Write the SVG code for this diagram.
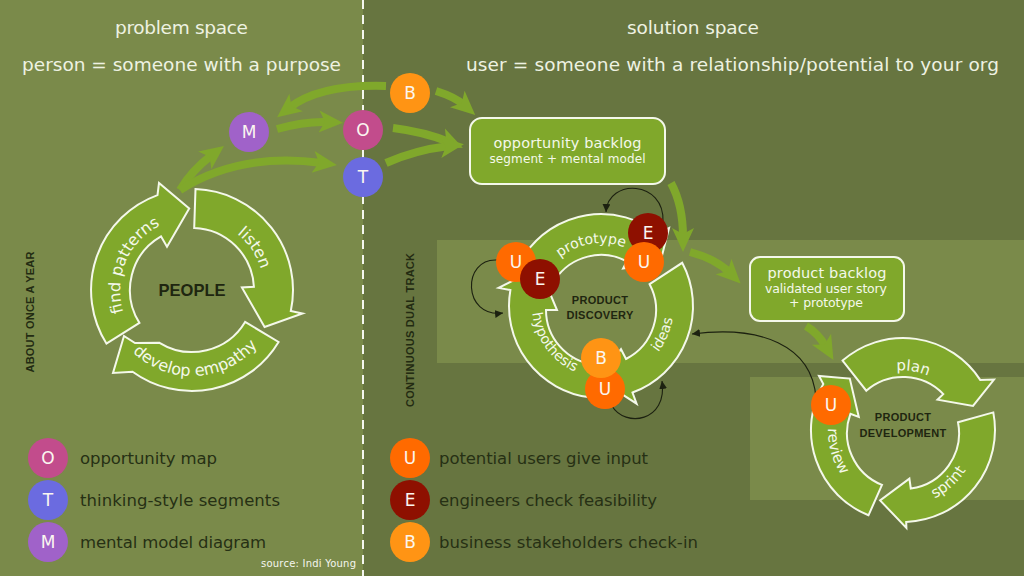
<svg xmlns="http://www.w3.org/2000/svg" width="1024" height="576" viewBox="0 0 1024 576">
<defs>
<style>
.ttl{font-family:"DejaVu Sans",Verdana,sans-serif;font-size:18.5px;fill:#eef2e2}
.ring{fill:#80a82b;stroke:#f4f8ea;stroke-width:2;stroke-linejoin:miter}
.rl{font-family:"DejaVu Sans",sans-serif;fill:#f4f8ea}
.ctr{font-family:"Liberation Sans",Arial,sans-serif;font-weight:bold;fill:#1f2610;text-anchor:middle}
.big{fill:none;stroke:#80a82b;stroke-width:8;marker-end:url(#ah)}
.thin{fill:none;stroke:#1c2110;stroke-width:1.1;marker-end:url(#sa)}
.cl{font-family:"DejaVu Sans",sans-serif;font-size:17px;fill:#fbf6f0;text-anchor:middle}
.lg{font-family:"DejaVu Sans",sans-serif;font-size:16.5px;fill:#263014}
.bx{fill:#80a82b;stroke:#f4f8ea;stroke-width:2}
.bt{font-family:"DejaVu Sans",sans-serif;fill:#f4f8ea;text-anchor:middle}
.vt{font-family:"Liberation Sans",Arial,sans-serif;font-weight:bold;font-size:11px;fill:#232b12;text-anchor:middle}
.cO{fill:#c24c8c}.cT{fill:#6b6be0}.cM{fill:#a062c9}.cB{fill:#ff9414}.cU{fill:#ff6a00}.cE{fill:#8e1000}
</style>
<marker id="ah" markerUnits="userSpaceOnUse" markerWidth="24" markerHeight="24" viewBox="0 0 24 24" refX="9" refY="12" orient="auto"><path d="M0,1 L24,12 L0,23 L6,12 z" fill="#80a82b"/></marker>
<marker id="sa" markerUnits="userSpaceOnUse" markerWidth="8" markerHeight="8" viewBox="0 0 8 8" refX="8" refY="4" orient="auto"><path d="M0,0 L8,4 L0,8 z" fill="#1c2110"/></marker>
<path id="t-listen" d="M151.7,230.3 A72,72 0 0 1 232.3,349.7"/>
<path id="t-find" d="M163.9,356.3 A72,72 0 0 1 220.1,223.7"/>
<path id="t-dev" d="M106.1,294.5 A86,86 0 0 0 277.9,285.5"/>
<path id="t-proto" d="M536.8,318.2 A65,65 0 0 1 665.2,297.8"/>
<path id="t-ideas" d="M572.1,376.1 A74,74 0 0 0 629.9,239.9"/>
<path id="t-hypo" d="M559.3,250.6 A71,71 0 0 0 642.7,365.4"/>
<path id="t-plan" d="M840.8,422.1 A63,63 0 0 1 965.2,441.9"/>
<path id="t-sprint" d="M847.3,482.2 A75,75 0 0 0 958.7,381.8"/>
<path id="t-review" d="M882.3,359.9 A75,75 0 0 0 923.7,504.1"/>
</defs>

<g id="background">
<rect width="1024" height="576" fill="#7a8a4a"/>
<rect x="363" width="661" height="576" fill="#677540"/>
<rect x="437" y="240" width="587" height="123" fill="#7a8a4a"/>
<rect x="750" y="377" width="274" height="123" fill="#7a8a4a"/>
<line x1="363" y1="0" x2="363" y2="576" stroke="#f4f6ee" stroke-width="2" stroke-dasharray="9 6"/>
</g>

<g id="titles">
<text class="ttl" x="181.5" y="34" text-anchor="middle" textLength="133">problem space</text>
<text class="ttl" x="22" y="71" textLength="319">person = someone with a purpose</text>
<text class="ttl" x="693" y="34" text-anchor="middle" textLength="132">solution space</text>
<text class="ttl" x="466" y="71" textLength="533">user = someone with a relationship/potential to your org</text>
<text class="vt" transform="translate(34,312) rotate(-90)" textLength="121">ABOUT ONCE A YEAR</text>
<text class="vt" transform="translate(414,330) rotate(-90)" textLength="154">CONTINUOUS DUAL TRACK</text>
</g>

<g id="people-cycle">
<path class="ring" d="M195.5,189.1 A101,101 0 0 1 290.8,311 L302.5,313.5 L264.6,327 L241.9,287.4 L253.9,286.8 A62,62 0 0 0 194.2,228 Z"/>
<path class="ring" d="M278.6,342 A101,101 0 0 1 132.6,371.7 L113,373 L124,336 L135,343 L159.5,342.8 A62,62 0 0 0 245.1,321.9 Z"/>
<path class="ring" d="M106.4,343.5 A101,101 0 0 1 157.5,195.1 L159,183 L189.2,208.5 L167,246.7 L161,236.3 A62,62 0 0 0 139.4,322.9 Z"/>
<text class="rl" font-size="16" text-anchor="middle"><textPath href="#t-listen" startOffset="50%">listen</textPath></text>
<text class="rl" font-size="16" text-anchor="middle"><textPath href="#t-find" startOffset="50%">find patterns</textPath></text>
<text class="rl" font-size="16" text-anchor="middle"><textPath href="#t-dev" startOffset="50%">develop empathy</textPath></text>
<text class="ctr" x="192" y="296" font-size="16.5">PEOPLE</text>
</g>

<g id="discovery-cycle">
<path class="ring" d="M524.7,254.6 A92,92 0 0 1 657.6,233.5 L669,228 L660.1,263.1 L623.1,268.5 L626.8,261.4 A55,55 0 0 0 555.4,279.2 Z"/>
<path class="ring" d="M682.2,262.8 A92,92 0 0 1 632.5,392.5 L636.6,403.7 L598.5,379 L621,349.2 L626,359 A55,55 0 0 0 649.6,284.2 Z"/>
<path class="ring" d="M589.8,397.3 A92,92 0 0 1 510.4,290 L498.6,287.9 L539.1,267.3 L557,310 L546,310 A55,55 0 0 0 594.3,364.6 Z"/>
<text class="rl" font-size="14" text-anchor="middle"><textPath href="#t-proto" startOffset="50%">prototype</textPath></text>
<text class="rl" font-size="14" text-anchor="middle"><textPath href="#t-ideas" startOffset="50%">ideas</textPath></text>
<text class="rl" font-size="14" text-anchor="middle"><textPath href="#t-hypo" startOffset="50%">hypothesis</textPath></text>
<text class="ctr" x="600" y="304" font-size="11" letter-spacing="0.3">PRODUCT</text>
<text class="ctr" x="600" y="319" font-size="11" letter-spacing="0.3">DISCOVERY</text>
</g>

<g id="development-cycle">
<path class="ring" d="M842.6,360.6 A92,92 0 0 1 980.2,379.9 L994,379.6 L973,405.9 L937.5,399.7 L943.3,394.1 A56,56 0 0 0 866.3,390.7 Z"/>
<path class="ring" d="M993.3,412.4 A92,92 0 0 1 906.2,521.9 L906.4,527.9 L880.1,500.4 L909.4,478.6 L910.8,488.5 A56,56 0 0 0 958,422.3 Z"/>
<path class="ring" d="M868.5,515.3 A92,92 0 0 1 823.3,384 L819,376 L849.8,378.6 L858.8,416.9 L850.4,413.8 A56,56 0 0 0 882,484.9 Z"/>
<text class="rl" font-size="15" text-anchor="middle"><textPath href="#t-plan" startOffset="50%">plan</textPath></text>
<text class="rl" font-size="15" text-anchor="middle"><textPath href="#t-sprint" startOffset="50%">sprint</textPath></text>
<text class="rl" font-size="15" text-anchor="middle"><textPath href="#t-review" startOffset="50%">review</textPath></text>
<text class="ctr" x="903" y="421" font-size="11" letter-spacing="0.3">PRODUCT</text>
<text class="ctr" x="903" y="437" font-size="11" letter-spacing="0.3">DEVELOPMENT</text>
</g>

<g id="connectors">
<path class="big" d="M386,86 Q320,84 289,108"/>
<path class="big" d="M436,91 Q455,97 464,105"/>
<path class="big" d="M277,129 Q305,121 328,122"/>
<path class="big" d="M393,128 Q425,132 449,142"/>
<path class="big" d="M386,163 Q415,150 449,146"/>
<path class="big" d="M180,190 Q192,170 212,155"/>
<path class="big" d="M180,190 Q240,152 322,163"/>
<path class="big" d="M671,183 Q683,205 683,237"/>
<path class="big" d="M690,252 Q716,259 730,273"/>
<path class="big" d="M806,326 Q818,333 826,347"/>
<path class="thin" d="M663,222 C665,180 608,178 606,212"/>
<path class="thin" d="M497,260 C462,258 462,318 503,313"/>
<path class="thin" d="M612,406 C625,428 668,422 662,381"/>
<path class="thin" d="M816,398 C812,345 760,325 692,334"/>
</g>

<g id="opportunity-backlog">
<rect class="bx" x="470" y="118" width="195" height="66" rx="12"/>
<text class="bt" x="567.5" y="148" font-size="14.5" textLength="148">opportunity backlog</text>
<text class="bt" x="567.5" y="163" font-size="12" textLength="156">segment + mental model</text>
</g>

<g id="product-backlog">
<rect class="bx" x="750" y="257" width="154" height="64" rx="10"/>
<text class="bt" x="827" y="278" font-size="14.5" textLength="119">product backlog</text>
<text class="bt" x="826" y="293" font-size="12.5" textLength="122">validated user story</text>
<text class="bt" x="826" y="307" font-size="12.5" textLength="74">+ prototype</text>
</g>

<g id="node-M"><circle class="cM" cx="249" cy="132" r="20"/><text class="cl" x="249" y="138">M</text></g>
<g id="node-O"><circle class="cO" cx="363" cy="130" r="20"/><text class="cl" x="363" y="136">O</text></g>
<g id="node-T"><circle class="cT" cx="363" cy="177" r="20"/><text class="cl" x="363" y="183">T</text></g>
<g id="node-B-top"><circle class="cB" cx="410" cy="93" r="20"/><text class="cl" x="410" y="99">B</text></g>

<g id="node-U-left"><circle class="cU" cx="516" cy="262" r="20"/><text class="cl" x="516" y="268">U</text></g>
<g id="node-E-left"><circle class="cE" cx="540" cy="279" r="20"/><text class="cl" x="540" y="285">E</text></g>
<g id="node-E-right"><circle class="cE" cx="648" cy="233" r="20"/><text class="cl" x="648" y="239">E</text></g>
<g id="node-U-right"><circle class="cU" cx="644" cy="262" r="20"/><text class="cl" x="644" y="268">U</text></g>
<g id="node-U-bottom"><circle class="cU" cx="605" cy="389" r="20"/><text class="cl" x="605" y="395">U</text></g>
<g id="node-B-bottom"><circle class="cB" cx="601" cy="358" r="20"/><text class="cl" x="601" y="364">B</text></g>
<g id="node-U-dev"><circle class="cU" cx="831" cy="405" r="20"/><text class="cl" x="831" y="411">U</text></g>

<g id="legend-left">
<circle class="cO" cx="48" cy="458" r="20"/><text class="cl" x="48" y="464">O</text>
<text class="lg" x="80" y="464" textLength="137">opportunity map</text>
<circle class="cT" cx="48" cy="500" r="20"/><text class="cl" x="48" y="506">T</text>
<text class="lg" x="80" y="506" textLength="200">thinking-style segments</text>
<circle class="cM" cx="48" cy="542" r="20"/><text class="cl" x="48" y="548">M</text>
<text class="lg" x="80" y="548" textLength="186">mental model diagram</text>
<text x="356" y="567" font-family="DejaVu Sans, sans-serif" font-size="10" fill="#f4f6ee" text-anchor="end" textLength="95">source: Indi Young</text>
</g>

<g id="legend-right">
<circle class="cU" cx="410" cy="458" r="20"/><text class="cl" x="410" y="464">U</text>
<text class="lg" x="439" y="464" textLength="209">potential users give input</text>
<circle class="cE" cx="410" cy="500" r="20"/><text class="cl" x="410" y="506">E</text>
<text class="lg" x="439" y="506" textLength="218">engineers check feasibility</text>
<circle class="cB" cx="410" cy="542" r="20"/><text class="cl" x="410" y="548">B</text>
<text class="lg" x="439" y="548" textLength="259">business stakeholders check-in</text>
</g>
</svg>
